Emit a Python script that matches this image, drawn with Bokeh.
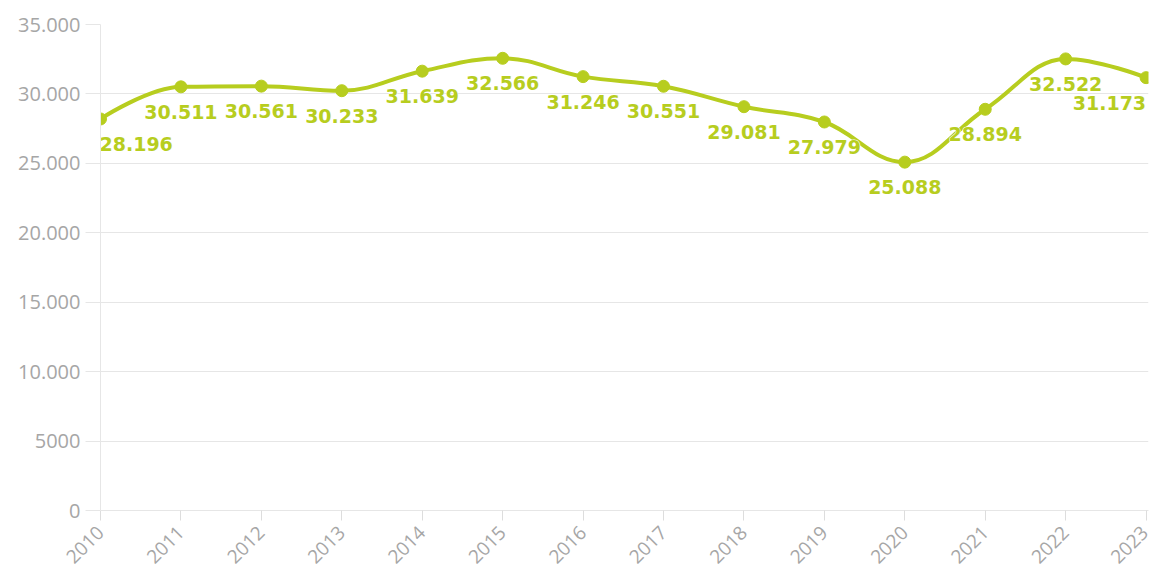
import math
from bokeh.plotting import figure
from bokeh.models import ColumnDataSource, FixedTicker, Range1d
from bokeh.core.properties import value
from bokeh.embed import file_html
from bokeh.resources import INLINE

years = [2010, 2011, 2012, 2013, 2014, 2015, 2016, 2017, 2018, 2019, 2020, 2021, 2022, 2023]
values = [28196, 30511, 30561, 30233, 31639, 32566, 31246, 30551, 29081, 27979, 25088, 28894, 32522, 31173]
labels = ["28.196", "30.511", "30.561", "30.233", "31.639", "32.566", "31.246", "30.551",
          "29.081", "27.979", "25.088", "28.894", "32.522", "31.173"]
y_ticks = [0, 5000, 10000, 15000, 20000, 25000, 30000, 35000]
y_tick_labels = ["0", "5000", "10.000", "15.000", "20.000", "25.000", "30.000", "35.000"]

GREEN = "#b7cd1f"
GRID = "#e6e6e6"
TICK_TEXT = "#a6a6a6"

# Highcharts-like spline control points computed from the data
def spline_controls(xs, ys, smoothing=1.5):
    n = len(xs)
    denom = smoothing + 1
    left = [(xs[i], ys[i]) for i in range(n)]
    right = [(xs[i], ys[i]) for i in range(n)]
    for i in range(1, n - 1):
        lx, ly = xs[i - 1], ys[i - 1]
        px, py = xs[i], ys[i]
        nx, ny = xs[i + 1], ys[i + 1]
        lcx = (smoothing * px + lx) / denom
        lcy = (smoothing * py + ly) / denom
        rcx = (smoothing * px + nx) / denom
        rcy = (smoothing * py + ny) / denom
        if rcx != lcx:
            corr = ((rcy - lcy) * (rcx - px)) / (rcx - lcx) + py - rcy
            lcy += corr
            rcy += corr
        if lcy > ly and lcy > py:
            lcy = max(ly, py)
            rcy = 2 * py - lcy
        elif lcy < ly and lcy < py:
            lcy = min(ly, py)
            rcy = 2 * py - lcy
        if rcy > ny and rcy > py:
            rcy = max(ny, py)
            lcy = 2 * py - rcy
        elif rcy < ny and rcy < py:
            rcy = min(ny, py)
            lcy = 2 * py - rcy
        left[i] = (lcx, lcy)
        right[i] = (rcx, rcy)
    seg = dict(x0=[], y0=[], x1=[], y1=[], cx0=[], cy0=[], cx1=[], cy1=[])
    for i in range(1, n):
        seg["x0"].append(xs[i - 1]); seg["y0"].append(ys[i - 1])
        seg["x1"].append(xs[i]); seg["y1"].append(ys[i])
        seg["cx0"].append(right[i - 1][0]); seg["cy0"].append(right[i - 1][1])
        seg["cx1"].append(left[i][0]); seg["cy1"].append(left[i][1])
    return seg

seg_src = ColumnDataSource(spline_controls(years, values))

n = len(years)
align = ["left"] + ["center"] * (n - 2) + ["right"]
x_off = [-1] + [0] * (n - 2) + [0]
pt_src = ColumnDataSource(dict(x=years, y=values, label=labels, align=align, xoff=x_off))

p = figure(width=1149, height=572, output_backend="svg", toolbar_location=None,
           x_range=Range1d(2010, 2023.03), y_range=Range1d(0, 35000),
           min_border_left=100, min_border_right=1, min_border_top=24, min_border_bottom=62)
p.outline_line_color = None
p.background_fill_color = "white"
p.border_fill_color = "white"

p.bezier(x0="x0", y0="y0", x1="x1", y1="y1", cx0="cx0", cy0="cy0", cx1="cx1", cy1="cy1",
         source=seg_src, line_color=GREEN, line_width=4)
p.scatter(x="x", y="y", source=pt_src, size=12, fill_color=GREEN, line_color=GREEN)

label_kw = dict(x="x", y="y", text="label", source=pt_src, text_align="align",
                text_baseline="middle", text_font=value("DejaVu Sans"),
                text_font_style=value("bold"), text_font_size=value("19px"),
                x_offset="xoff", y_offset=25)

# white halo layer beneath the labels
halo = p.text(**label_kw, text_color="white")
if "text_outline_color" in halo.glyph.properties():
    halo.glyph.text_outline_color = "white"
    if "text_outline_width" in halo.glyph.properties():
        halo.glyph.text_outline_width = 4
else:
    p.renderers.remove(halo)
    for dx, dy in [(-2, 0), (2, 0), (0, -2), (0, 2), (-1.5, -1.5), (1.5, 1.5), (-1.5, 1.5), (1.5, -1.5)]:
        src = ColumnDataSource(dict(x=years, y=values, label=labels, align=align,
                                    xoff=[o + dx for o in x_off]))
        kw = dict(label_kw); kw["source"] = src; kw["y_offset"] = 25 + dy
        p.text(**kw, text_color="white")

p.text(**label_kw, text_color=GREEN)

# axes
p.xaxis.ticker = FixedTicker(ticks=years)
p.xaxis.major_label_orientation = math.pi / 4
p.xaxis.axis_line_color = GRID
p.xaxis.major_tick_line_color = "#dddddd"
p.xaxis.major_tick_out = 10
p.xaxis.major_tick_in = 0
p.xaxis.minor_tick_line_color = None
p.xaxis.major_label_text_color = TICK_TEXT
p.xaxis.major_label_text_font = "Open Sans"
p.xaxis.major_label_text_font_size = "19px"
p.xaxis.major_label_standoff = 9

p.yaxis.ticker = FixedTicker(ticks=y_ticks)
p.yaxis.major_label_overrides = {t: s for t, s in zip(y_ticks, y_tick_labels)}
p.yaxis.axis_line_color = GRID
p.yaxis.major_tick_line_color = GRID
p.yaxis.major_tick_out = 15
p.yaxis.major_tick_in = 0
p.yaxis.minor_tick_line_color = None
p.yaxis.major_label_text_color = TICK_TEXT
p.yaxis.major_label_text_font = "Open Sans"
p.yaxis.major_label_text_font_size = "20px"
p.yaxis.major_label_standoff = 5

p.xgrid.grid_line_color = None
p.ygrid.grid_line_color = GRID
p.ygrid.grid_line_width = 1

open("out.html", "w").write(file_html(p, INLINE))
